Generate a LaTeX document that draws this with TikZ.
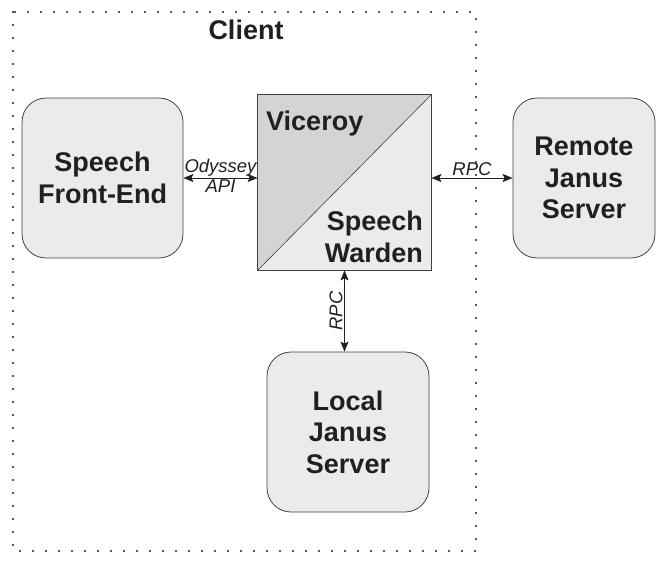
\documentclass[tikz,border=0pt]{standalone}
\usepackage{fontspec}
\setmainfont{Liberation Sans}
\usetikzlibrary{arrows.meta}
\definecolor{boxgray}{RGB}{235,235,236}
\definecolor{darkgray}{RGB}{212,212,213}
\definecolor{ink}{RGB}{35,31,32}
\begin{document}
\begin{tikzpicture}[x=1pt,y=-1pt,>={Stealth[length=10pt,width=8pt,inset=2pt]},line join=round,
	box/.style={draw=ink!85,line width=0.8pt,fill=boxgray,rounded corners=24pt,align=center,
		font=\fontsize{27}{31.5}\selectfont\bfseries,text=ink,inner sep=0pt},
	lab/.style={font=\fontsize{18.5}{20}\selectfont\itshape,text=ink,inner sep=1.5pt}]
		\useasboundingbox (0,0) rectangle (662,563);
		% client area
		\draw[ink,line width=2.3pt,line cap=round,dash pattern=on 0pt off 13pt] (13,12) rectangle (476,551);
		\node[font=\fontsize{27}{31.5}\selectfont\bfseries,text=ink] (client) at (246,30) {Client};
		\node[box,minimum width=161pt,minimum height=160pt] (fe) at (102.5,178) {Speech\\Front-End};
		\node[box,minimum width=142pt,minimum height=160pt] (rem) at (584,178) {Remote\\Janus\\Server};
		\node[box,minimum width=162pt,minimum height=160pt] (loc) at (348,432) {Local\\Janus\\Server};
		\node[draw=ink!85,line width=0.8pt,fill=boxgray,minimum width=173pt,minimum height=175pt,inner sep=0pt] (vic) at (344.5,182.5) {};
		\fill[darkgray] (vic.north west)--(vic.north east)--(vic.south west)--cycle;
		\draw[ink!85,line width=0.8pt] (vic.north west) rectangle (vic.south east);
		\draw[ink!85,line width=0.6pt] (vic.north east)--(vic.south west);
		\node[font=\fontsize{27}{31.5}\selectfont\bfseries,text=ink,anchor=north west,inner sep=0pt] (vtxt) at (266,111) {Viceroy};
		\node[font=\fontsize{27}{32}\selectfont\bfseries,text=ink,anchor=south east,align=right,inner sep=0pt] (wtxt) at (423,263) {Speech\\Warden};
		% connectors
		\draw[<->,ink,line width=0.8pt] (fe.east) -- (fe.east -| vic.west)
			node[lab,midway,above] (ody) {Odyssey} node[lab,midway,below] (api) {API};
		\draw[<->,ink,line width=0.8pt] (rem.west -| vic.east) -- (rem.west)
			node[lab,midway,above] (rpc1) {RPC};
		\draw[<->,ink,line width=0.8pt] (vic.south) -- (vic.south |- loc.north)
			node[lab,midway,rotate=90,anchor=south] (rpc2) {RPC};
		\end{tikzpicture}
\end{document}
